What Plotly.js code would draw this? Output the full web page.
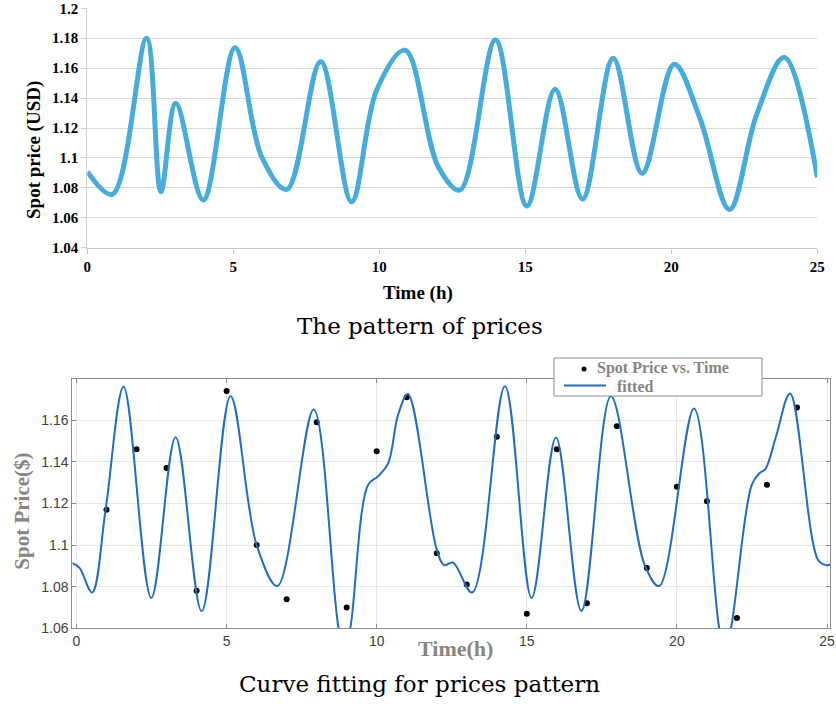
<!DOCTYPE html>
<html>
<head>
<meta charset="utf-8">
<script src="https://cdn.plot.ly/plotly-3.0.1.min.js"></script>
<style>
  html, body { margin: 0; padding: 0; background: #ffffff; }
  #chart { width: 836px; height: 704px; }
</style>
</head>
<body>
<div id="chart"></div>
<script>
// Upper panel: hourly pattern of the spot price (smoothed line)
const patternHours = [0, 0.86, 2.03, 2.52, 3.03, 3.97, 5.06, 5.97, 6.83, 7.99, 9.05, 9.91, 10.88,
  12.02, 12.76, 13.98, 15.05, 16.02, 16.96, 18.01, 19.0, 20.10, 20.98, 21.99, 22.92, 23.87, 25];
const patternPrice = [1.0908, 1.0757, 1.1800, 1.0774, 1.1365, 1.0719, 1.1737, 1.1008, 1.0790, 1.1643,
  1.0707, 1.1454, 1.1720, 1.0941, 1.0785, 1.1788, 1.0679, 1.1459, 1.0725, 1.1666, 1.0897, 1.1626,
  1.1265, 1.0656, 1.1287, 1.1672, 1.0870];

// Lower panel: observed spot prices, one per hour
const sampleHours = [1, 2, 3, 4, 5, 6, 7, 8, 9, 10, 11, 12, 13, 14, 15, 16, 17, 18, 19, 20, 21, 22, 23, 24];
const samplePrice = [1.117, 1.146, 1.137, 1.078, 1.174, 1.100, 1.074, 1.159, 1.070, 1.145, 1.171, 1.096,
  1.081, 1.152, 1.067, 1.146, 1.072, 1.157, 1.089, 1.128, 1.121, 1.065, 1.129, 1.166];

// Lower panel: fitted curve through the observations
const fitHours = [-0.14, 0.1, 0.52, 0.97, 1.57, 2.49, 3.3, 4.17, 5.13, 6.0, 6.69, 7.9, 8.73, 8.93, 9.12,
  9.71, 10.04, 10.38, 10.71, 11.04, 11.99, 12.25, 12.54, 13.18, 14.27, 15.16, 15.97, 16.82, 17.8,
  18.93, 19.41, 20.57, 21.41, 21.6, 21.8, 22.49, 22.75, 22.95, 23.3, 23.77, 24.71, 25.0, 25.17];
const fitPrice = [1.0913, 1.0890, 1.0772, 1.1170, 1.1760, 1.0746, 1.1518, 1.0682, 1.1715, 1.1000, 1.0803,
  1.1651, 1.0600, 1.0500, 1.0600, 1.1288, 1.1330, 1.1392, 1.1624, 1.1725, 1.0983, 1.0903, 1.0916,
  1.0772, 1.1763, 1.0746, 1.1517, 1.0683, 1.1715, 1.0903, 1.0803, 1.1656, 1.0600, 1.0500, 1.0600,
  1.1288, 1.1345, 1.1365, 1.1520, 1.1728, 1.0927, 1.0903, 1.0911];

// Tick labels
const hourTicks = [0, 5, 10, 15, 20, 25];
const upperPriceTicks = [1.04, 1.06, 1.08, 1.1, 1.12, 1.14, 1.16, 1.18, 1.2];
const upperPriceLabels = ['1.04', '1.06', '1.08', '1.1', '1.12', '1.14', '1.16', '1.18', '1.2'];
const lowerPriceTicks = [1.06, 1.08, 1.1, 1.12, 1.14, 1.16];
const lowerPriceLabels = ['1.06', '1.08', '1.1', '1.12', '1.14', '1.16'];

// Titles, captions and legend labels
const upperYTitle = 'Spot price (USD)';
const upperXTitle = 'Time (h)';
const lowerYTitle = 'Spot Price($)';
const lowerXTitle = 'Time(h)';
const captions = ['The pattern of prices', 'Curve fitting for prices pattern'];
const seriesNames = ['Spot Price vs. Time', 'fitted'];

const W = 836, H = 704;
const px = v => v / W;
const py = v => (H - v) / H;

const serifBold = { family: 'Liberation Serif, Times New Roman, serif', weight: 'bold', color: '#000000' };
const grayTitle = '#8a847e';
const fitColor = '#1f6ebf';
const frameGray = '#8c8c8c';

const traces = [
  {
    x: patternHours, y: patternPrice, xaxis: 'x', yaxis: 'y',
    type: 'scatter', mode: 'lines',
    line: { shape: 'spline', smoothing: 1, color: '#45acdb', width: 5 },
    showlegend: false, hoverinfo: 'skip'
  },
  {
    x: sampleHours, y: samplePrice, xaxis: 'x2', yaxis: 'y2',
    type: 'scatter', mode: 'markers', name: seriesNames[0],
    marker: { color: '#000000', size: 6 }, showlegend: false
  },
  {
    x: fitHours, y: fitPrice, xaxis: 'x2', yaxis: 'y2',
    type: 'scatter', mode: 'lines', name: seriesNames[1],
    line: { shape: 'spline', smoothing: 1, color: fitColor, width: 2 }, showlegend: false
  }
];

// Compact legend box sitting on the top edge of the lower frame
const legendShapes = [
  { type: 'rect', xref: 'paper', yref: 'paper', layer: 'above',
    x0: px(554), x1: px(762), y0: py(396), y1: py(358),
    fillcolor: '#ffffff', line: { color: frameGray, width: 1 } },
  { type: 'circle', xref: 'paper', yref: 'paper', layer: 'above',
    x0: px(581.5), x1: px(586.5), y0: py(371.5), y1: py(366.5),
    fillcolor: '#000000', line: { color: '#000000', width: 0 } },
  { type: 'line', xref: 'paper', yref: 'paper', layer: 'above',
    x0: px(564), x1: px(606), y0: py(385.5), y1: py(385.5),
    line: { color: fitColor, width: 2 } }
];

const legendFont = { family: 'Liberation Serif, serif', weight: 'bold', size: 16, color: grayTitle };

const layout = {
  width: W, height: H, autosize: false,
  margin: { l: 0, r: 0, t: 0, b: 0, pad: 0 },
  paper_bgcolor: '#ffffff', plot_bgcolor: '#ffffff',
  showlegend: false,
  xaxis: {
    domain: [px(87.3), px(817.3)], anchor: 'y',
    range: [0, 25], tickvals: hourTicks,
    showgrid: false, zeroline: false,
    showline: true, linecolor: '#c8c8c8', linewidth: 1,
    ticks: 'outside', ticklen: 5, tickcolor: '#c8c8c8',
    tickfont: Object.assign({ size: 15 }, serifBold)
  },
  yaxis: {
    domain: [py(247.7), py(8.3)], anchor: 'x',
    range: [1.04, 1.2], tickvals: upperPriceTicks, ticktext: upperPriceLabels,
    showgrid: true, gridcolor: '#d9d9d9', gridwidth: 1, zeroline: false,
    showline: true, linecolor: '#d0d0d0', linewidth: 1,
    ticks: 'outside', ticklen: 5, tickcolor: '#d0d0d0',
    tickfont: Object.assign({ size: 15 }, serifBold)
  },
  xaxis2: {
    domain: [px(72.3), px(830)], anchor: 'y2',
    range: [-0.14, 25.1], tickvals: hourTicks,
    showgrid: true, gridcolor: '#e6e6e6', gridwidth: 1, zeroline: false,
    showline: true, mirror: 'ticks', linecolor: frameGray, linewidth: 1,
    ticks: 'inside', ticklen: 4, tickcolor: frameGray,
    tickfont: { family: 'Liberation Sans, Arial, sans-serif', size: 14, color: '#404040' }
  },
  yaxis2: {
    domain: [py(628.3), py(379.3)], anchor: 'x2',
    range: [1.06, 1.1796], tickvals: lowerPriceTicks, ticktext: lowerPriceLabels,
    showgrid: true, gridcolor: '#e6e6e6', gridwidth: 1, zeroline: false,
    showline: true, mirror: 'ticks', linecolor: frameGray, linewidth: 1,
    ticks: 'inside', ticklen: 4, tickcolor: frameGray,
    tickfont: { family: 'Liberation Sans, Arial, sans-serif', size: 14, color: '#404040' }
  },
  shapes: legendShapes,
  annotations: [
    {
      text: upperYTitle, xref: 'paper', yref: 'paper', x: px(34), y: py(150),
      xanchor: 'center', yanchor: 'middle', textangle: -90, showarrow: false,
      font: Object.assign({ size: 19 }, serifBold)
    },
    {
      text: upperXTitle, xref: 'paper', yref: 'paper', x: px(418), y: py(293),
      xanchor: 'center', yanchor: 'middle', showarrow: false,
      font: Object.assign({ size: 19 }, serifBold)
    },
    {
      text: lowerYTitle, xref: 'paper', yref: 'paper', x: px(22), y: py(511.7),
      xanchor: 'center', yanchor: 'middle', textangle: -90, showarrow: false,
      font: { family: 'Liberation Serif, serif', weight: 'bold', size: 21, color: grayTitle }
    },
    {
      text: lowerXTitle, xref: 'paper', yref: 'paper', x: px(455), y: py(648),
      xanchor: 'center', yanchor: 'middle', showarrow: false,
      font: { family: 'Liberation Serif, serif', weight: 'bold', size: 22, color: grayTitle }
    },
    {
      text: seriesNames[0], xref: 'paper', yref: 'paper', x: px(595), y: py(367.5),
      xanchor: 'left', yanchor: 'middle', showarrow: false, font: legendFont
    },
    {
      text: seriesNames[1], xref: 'paper', yref: 'paper', x: px(615), y: py(386),
      xanchor: 'left', yanchor: 'middle', showarrow: false, font: legendFont
    },
    {
      text: captions[0], xref: 'paper', yref: 'paper', x: px(420), y: py(326),
      xanchor: 'center', yanchor: 'middle', showarrow: false,
      font: { family: 'DejaVu Serif, serif', size: 23, color: '#000000' }
    },
    {
      text: captions[1], xref: 'paper', yref: 'paper', x: px(420), y: py(684),
      xanchor: 'center', yanchor: 'middle', showarrow: false,
      font: { family: 'DejaVu Serif, serif', size: 23, color: '#000000' }
    }
  ]
};

Plotly.newPlot('chart', traces, layout, { displayModeBar: false, staticPlot: true });
</script>
</body>
</html>
